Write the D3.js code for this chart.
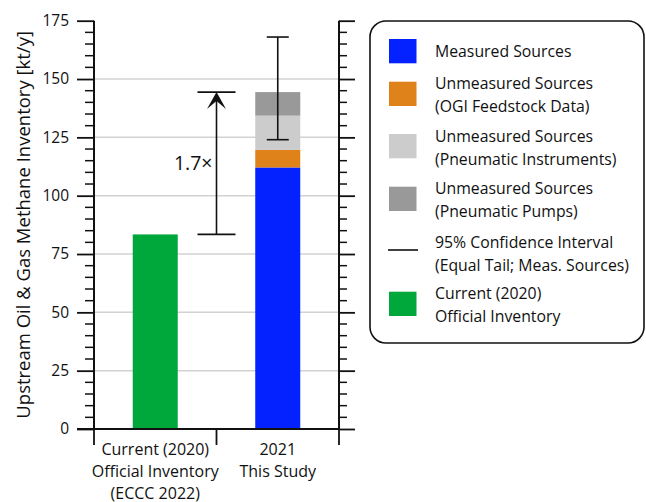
<!DOCTYPE html>
<html>
<head>
<meta charset="utf-8">
<script src="https://cdn.jsdelivr.net/npm/d3@7"></script>
<style>
  html, body { margin: 0; padding: 0; background: #fff; }
  svg { display: block; font-family: "Open Sans", sans-serif; }
</style>
</head>
<body>
<svg id="chart" width="646" height="502"></svg>
<script>
// ---- Data ----
const categories = ["Current (2020)\nOfficial Inventory\n(ECCC 2022)", "2021\nThis Study"];
const officialInventory = [83.4, 0];
const measuredSources = [0, 112.1];
const unmeasuredOGI = [0, 7.5];
const unmeasuredPneumaticInstruments = [0, 14.7];
const unmeasuredPneumaticPumps = [0, 10.1];
const ciLow = [null, 124.0];
const ciHigh = [null, 168.0];
const ratioLabel = "1.7×";
const yTicks = [0, 25, 50, 75, 100, 125, 150, 175];
const legendLabels = [
  ["Measured Sources"],
  ["Unmeasured Sources", "(OGI Feedstock Data)"],
  ["Unmeasured Sources", "(Pneumatic Instruments)"],
  ["Unmeasured Sources", "(Pneumatic Pumps)"],
  ["95% Confidence Interval", "(Equal Tail; Meas. Sources)"],
  ["Current (2020)", "Official Inventory"]
];

const colors = {
  measured: "#0322ff",
  ogi: "#df821a",
  instr: "#cccccc",
  pumps: "#999999",
  official: "#00a83c"
};

const svg = d3.select("#chart");
const margin = { left: 94, right: 339, top: 20.7, bottom: 429 };

const x = d3.scaleBand().domain(categories).range([margin.left, margin.right]).paddingInner(0).paddingOuter(0);
const y = d3.scaleLinear().domain([0, 175]).range([margin.bottom, margin.top]);
const barW = 45;

// gridlines
svg.append("g").selectAll("line").data(yTicks.filter(d => d > 0 && d < 175)).join("line")
  .attr("x1", margin.left).attr("x2", margin.right)
  .attr("y1", d => y(d)).attr("y2", d => y(d))
  .attr("stroke", "#d2d2d2").attr("stroke-width", 1.5);

// stacked bars
const stackKeys = ["official", "measured", "ogi", "instr", "pumps"];
const rows = categories.map((c, i) => ({
  cat: c,
  official: officialInventory[i],
  measured: measuredSources[i],
  ogi: unmeasuredOGI[i],
  instr: unmeasuredPneumaticInstruments[i],
  pumps: unmeasuredPneumaticPumps[i]
}));
const stack = d3.stack().keys(stackKeys)(rows);
svg.append("g").selectAll("g").data(stack).join("g")
  .attr("fill", d => colors[d.key])
  .selectAll("rect").data(d => d.filter(s => s[1] - s[0] > 0)).join("rect")
  .attr("x", d => x(d.data.cat) + x.bandwidth() / 2 - barW / 2)
  .attr("width", barW)
  .attr("y", d => y(d[1]))
  .attr("height", d => y(d[0]) - y(d[1]));

// error bar
categories.forEach((c, i) => {
  if (ciLow[i] == null) return;
  const cx = x(c) + x.bandwidth() / 2;
  const g = svg.append("g").attr("stroke", "#111").attr("stroke-width", 1.6);
  g.append("line").attr("x1", cx).attr("x2", cx).attr("y1", y(ciLow[i])).attr("y2", y(ciHigh[i]));
  g.append("line").attr("x1", cx - 11).attr("x2", cx + 11).attr("y1", y(ciLow[i])).attr("y2", y(ciLow[i]));
  g.append("line").attr("x1", cx - 11).attr("x2", cx + 11).attr("y1", y(ciHigh[i])).attr("y2", y(ciHigh[i]));
});

// ratio annotation
const totalStudy = measuredSources[1] + unmeasuredOGI[1] + unmeasuredPneumaticInstruments[1] + unmeasuredPneumaticPumps[1];
const ax = margin.left + x.bandwidth(); // category boundary
const ann = svg.append("g").attr("stroke", "#111").attr("stroke-width", 1.6);
ann.append("line").attr("x1", ax - 19).attr("x2", ax + 19).attr("y1", y(officialInventory[0])).attr("y2", y(officialInventory[0]));
ann.append("line").attr("x1", ax - 19).attr("x2", ax + 19).attr("y1", y(totalStudy)).attr("y2", y(totalStudy));
ann.append("line").attr("x1", ax).attr("x2", ax).attr("y1", y(officialInventory[0])).attr("y2", y(totalStudy) + 6);
const tipY = y(totalStudy);
svg.append("path")
  .attr("d", `M${ax},${tipY} L${ax + 9.5},${tipY + 17} L${ax},${tipY + 9} L${ax - 9.5},${tipY + 17} Z`)
  .attr("fill", "#111");
svg.append("text").attr("x", ax - 4).attr("y", (y(officialInventory[0]) + y(totalStudy)) / 2 + 7)
  .attr("text-anchor", "end").attr("font-size", 19.5).attr("fill", "#111").text(ratioLabel);

// axes lines
const axisG = svg.append("g").attr("stroke", "#111");
axisG.append("line").attr("x1", margin.left).attr("x2", margin.left).attr("y1", margin.top).attr("y2", margin.bottom).attr("stroke-width", 2);
axisG.append("line").attr("x1", margin.right).attr("x2", margin.right).attr("y1", margin.top).attr("y2", margin.bottom).attr("stroke-width", 2);
axisG.append("line").attr("x1", margin.left - 17).attr("x2", margin.right).attr("y1", margin.bottom).attr("y2", margin.bottom).attr("stroke-width", 2);

// y ticks (major + minor) on both sides
const minor = d3.range(0, 176, 5).filter(v => v % 25 !== 0);
const yAxisL = d3.axisLeft(y).tickValues(yTicks).tickSize(17).tickPadding(8).tickFormat(d3.format("d"));
const gL = svg.append("g").attr("transform", `translate(${margin.left},0)`).call(yAxisL);
gL.select(".domain").remove();
gL.selectAll(".tick line").attr("stroke", "#111").attr("stroke-width", 1.8);
gL.selectAll(".tick text").attr("font-size", 15.5).attr("fill", "#111").attr("font-family", "Open Sans");
svg.append("g").selectAll("line").data(minor).join("line")
  .attr("x1", margin.left - 9).attr("x2", margin.left).attr("y1", d => y(d)).attr("y2", d => y(d))
  .attr("stroke", "#111").attr("stroke-width", 1.5);

const gR = svg.append("g").attr("transform", `translate(${margin.right},0)`)
  .call(d3.axisRight(y).tickValues(yTicks).tickSize(16).tickFormat(""));
gR.select(".domain").remove();
gR.selectAll(".tick line").attr("stroke", "#111").attr("stroke-width", 1.8);
svg.append("g").selectAll("line").data(minor).join("line")
  .attr("x1", margin.right).attr("x2", margin.right + 8).attr("y1", d => y(d)).attr("y2", d => y(d))
  .attr("stroke", "#111").attr("stroke-width", 1.5);

// x ticks at category boundaries
const xBounds = [margin.left, margin.left + x.bandwidth(), margin.right];
svg.append("g").selectAll("line").data(xBounds).join("line")
  .attr("x1", d => d).attr("x2", d => d).attr("y1", margin.bottom).attr("y2", margin.bottom + 16)
  .attr("stroke", "#111").attr("stroke-width", 1.8);

// x labels
categories.forEach(c => {
  const lines = c.split("\n");
  const t = svg.append("text").attr("text-anchor", "middle").attr("font-size", 16).attr("fill", "#111");
  lines.forEach((l, j) => {
    t.append("tspan").attr("x", x(c) + x.bandwidth() / 2).attr("y", margin.bottom + 25.5 + j * 22).text(l);
  });
});

// y label
svg.append("text")
  .attr("transform", `translate(30,${(margin.top + margin.bottom) / 2}) rotate(-90)`)
  .attr("text-anchor", "middle").attr("font-size", 18.5).attr("fill", "#111")
  .text("Upstream Oil & Gas Methane Inventory [kt/y]");

// legend
const lg = svg.append("g");
lg.append("rect").attr("x", 370).attr("y", 21).attr("width", 274).attr("height", 322)
  .attr("rx", 16).attr("ry", 16).attr("fill", "#fff").attr("stroke", "#111").attr("stroke-width", 1.6);
const legendColors = [colors.measured, colors.ogi, colors.instr, colors.pumps, null, colors.official];
const swatchTop = [39, 81.7, 134, 186.7, 240, 291.7];
legendLabels.forEach((lines, i) => {
  const top = swatchTop[i];
  if (legendColors[i]) {
    lg.append("rect").attr("x", 389).attr("y", top)
      .attr("width", 27.5).attr("height", 24.3).attr("fill", legendColors[i]);
  } else {
    lg.append("line").attr("x1", 388).attr("x2", 418).attr("y1", top + 10).attr("y2", top + 10)
      .attr("stroke", "#111").attr("stroke-width", 1.6);
  }
  const t = lg.append("text").attr("font-size", 15.8).attr("fill", "#111");
  lines.forEach((l, j) => {
    const center = lines.length === 1 ? top + 12.5 : top + 1.8 + j * 23;
    t.append("tspan").attr("x", 435).attr("y", center + 5.7).text(l);
  });
});
</script>
</body>
</html>
